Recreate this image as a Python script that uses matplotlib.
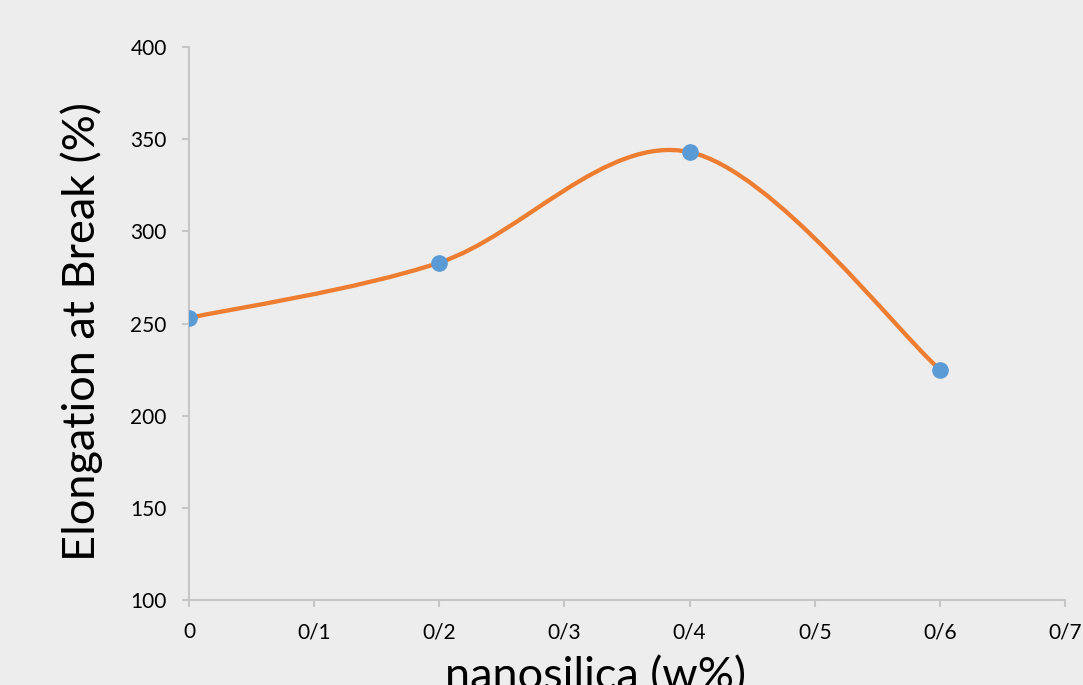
import numpy as np
import matplotlib
matplotlib.use("Agg")
import matplotlib.pyplot as plt
from matplotlib.path import Path
from matplotlib.patches import PathPatch

# data
nanosilica = [0.0, 0.2, 0.4, 0.6]
elongation = [253, 283, 343, 225]
xticks = [0, 0.1, 0.2, 0.3, 0.4, 0.5, 0.6, 0.7]
xtick_labels = ["0", "0/1", "0/2", "0/3", "0/4", "0/5", "0/6", "0/7"]
yticks = [100, 150, 200, 250, 300, 350, 400]

plt.rcParams['font.family'] = ['Lato', 'DejaVu Sans']

bg = '#ededed'
fig = plt.figure(figsize=(10.83, 6.85), dpi=100, facecolor=bg)
ax = fig.add_axes([189/1083, 1 - 600/685, 876/1083, 553/685])
ax.set_facecolor(bg)

# excel style smooth line: cubic bezier, control points = 1/6 of neighbour chord
P = np.column_stack([nanosilica, elongation]).astype(float)
n = len(P)
verts = [P[0]]
codes = [Path.MOVETO]
for i in range(n - 1):
    p0 = P[i - 1] if i > 0 else P[i]
    p3 = P[i + 2] if i + 2 < n else P[i + 1]
    c1 = P[i] + (P[i + 1] - p0) / 6
    c2 = P[i + 1] - (p3 - P[i]) / 6
    verts += [c1, c2, P[i + 1]]
    codes += [Path.CURVE4] * 3
ax.add_patch(PathPatch(Path(verts, codes), facecolor='none', edgecolor='#ed7d31',
                       lw=3.1, capstyle='round', zorder=2))
ax.plot(nanosilica, elongation, 'o', color='#5b9bd5', ms=11, zorder=3)

ax.set_xlim(0, 0.7)
ax.set_ylim(100, 400)
ax.set_xticks(xticks)
ax.set_xticklabels(xtick_labels)
ax.set_yticks(yticks)

for s in ['top', 'right']:
    ax.spines[s].set_visible(False)
for s in ['left', 'bottom']:
    ax.spines[s].set_color('#c6c6c6')
    ax.spines[s].set_linewidth(1.5)
ax.tick_params(axis='both', direction='out', length=5, width=1.5, color='#c6c6c6',
               labelsize=15, labelcolor='black', pad=11)

ax.set_ylabel('Elongation at Break (%)', fontsize=32.5)
ax.yaxis.set_label_coords(-0.098, 0.486)
ax.set_xlabel('nanosilica (w%)', fontsize=32.5)
ax.xaxis.set_label_coords(0.4635, -0.102)

fig.savefig('out.png', dpi=100, facecolor=bg)
